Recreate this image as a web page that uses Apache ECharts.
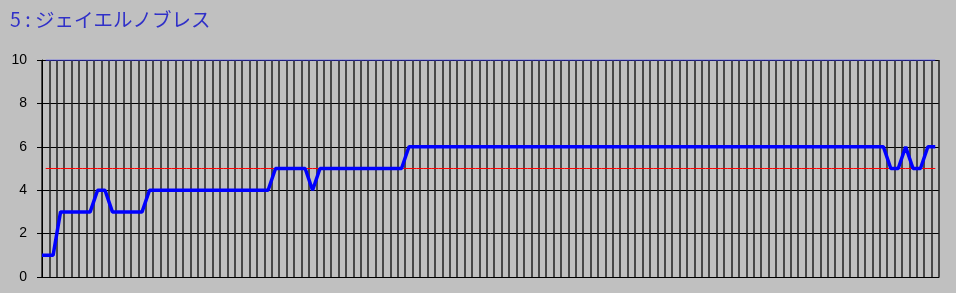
<!DOCTYPE html>
<html><head><meta charset="utf-8">
<script src="https://cdn.jsdelivr.net/npm/echarts@6/dist/echarts.min.js"></script>
<style>html,body{margin:0;padding:0;background:#c0c0c0;}#c{width:956px;height:293px;}</style>
</head><body><div id="c"></div>
<script>
const titleText = '5 : ジェイエルノブレス';
const ratings = [
  1,1,3,3,3,3,3,4,4,3,3,3,3,3,
  4,4,4,4,4,4,4,4,4,4,4,4,4,4,4,4,4,
  5,5,5,5,5,
  4,
  5,5,5,5,5,5,5,5,5,5,5,5,
  6,6,6,6,6, 6,6,6,6,6, 6,6,6,6,6, 6,6,6,6,6, 6,6,6,6,6,
  6,6,6,6,6, 6,6,6,6,6, 6,6,6,6,6, 6,6,6,6,6, 6,6,6,6,6,
  6,6,6,6,6, 6,6,6,6,6, 6,6,6,6,6,
  5,5,6,5,5,6,6
];
const raceIndex = ratings.map((_, i) => i + 1);
const referenceLevel = 5;
const upperLevel = 10;
const yTicks = [0, 2, 4, 6, 8, 10];

const chart = echarts.init(document.getElementById('c'), null, {renderer: 'canvas'});
const n = raceIndex.length;
const center = k => k - 0.5;
const mainData = [[0, ratings[0]]].concat(raceIndex.map((k, i) => [center(k), ratings[i]]));
const refData = raceIndex.map(k => [center(k), referenceLevel]);
const upperData = raceIndex.map(k => [center(k), upperLevel]);

chart.setOption({
  backgroundColor: '#c0c0c0',
  animation: false,
  title: {
    text: titleText, left: 5, top: 5,
    textStyle: {fontFamily: '"Noto Sans CJK JP", sans-serif', fontSize: 19.5, fontWeight: 'normal', color: '#3030c8'}
  },
  grid: {left: 42, right: 17, top: 60, bottom: 16},
  xAxis: {
    type: 'value', min: 0, max: n, interval: 1,
    axisLine: {show: true, lineStyle: {color: '#000', width: 1}},
    axisTick: {show: false}, axisLabel: {show: false},
    splitLine: {show: true, lineStyle: {color: '#202020', width: 1.5}}
  },
  yAxis: {
    type: 'value', min: yTicks[0], max: yTicks[yTicks.length - 1], interval: yTicks[1] - yTicks[0],
    axisLine: {show: true, lineStyle: {color: '#000'}},
    axisTick: {show: true, inside: false, length: 5, lineStyle: {color: '#000'}},
    axisLabel: {margin: 15, color: '#000', fontSize: 14, fontFamily: '"Liberation Sans", Arial, sans-serif'},
    splitLine: {show: true, lineStyle: {color: '#000', width: 1}}
  },
  series: [
    {type: 'line', data: upperData, symbol: 'none', lineStyle: {color: '#3c3cff', width: 1}, silent: true},
    {type: 'line', data: refData, symbol: 'none', lineStyle: {color: '#ff0000', width: 1}, silent: true},
    {type: 'line', data: mainData, symbol: 'none', lineStyle: {color: '#0000ff', width: 3.5}, silent: true}
  ]
});
</script>
</body></html>
